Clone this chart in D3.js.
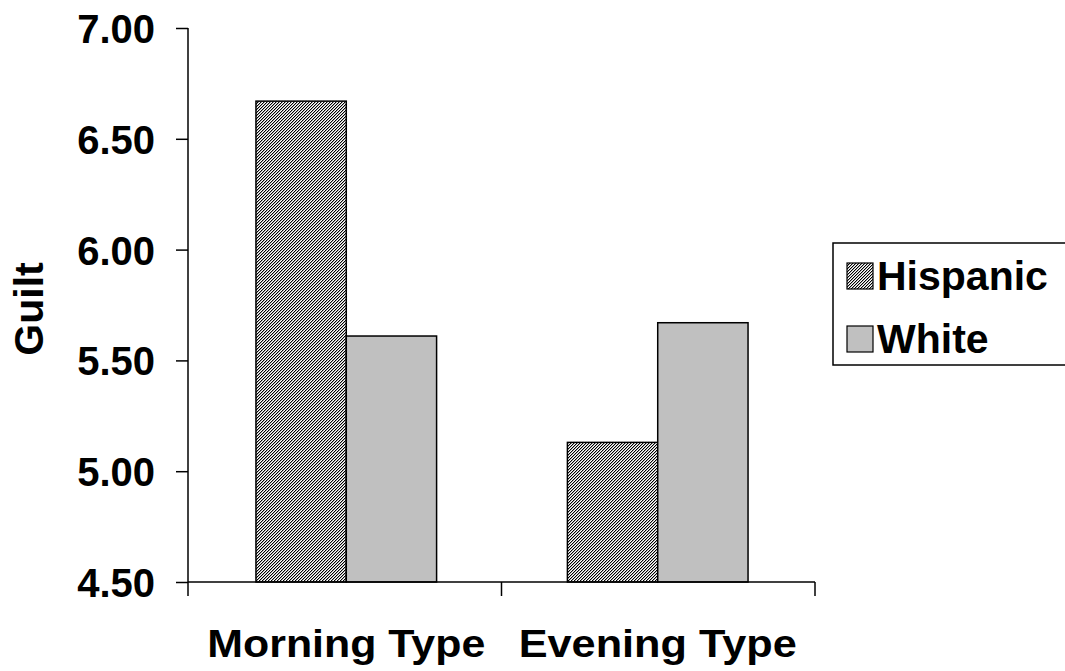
<!DOCTYPE html>
<html><head><meta charset="utf-8">
<script src="https://cdn.jsdelivr.net/npm/d3@7"></script>
<style>body{margin:0;background:#fff}svg{display:block}text{font-family:Arial,"Liberation Sans",sans-serif;font-weight:bold;fill:#000}</style>
</head><body>
<svg id="c" width="1065" height="671"></svg>
<script>
const categories = ["Morning Type", "Evening Type"];
const seriesNames = ["Hispanic", "White"];
const hispanic = [6.67, 5.13];
const white = [5.61, 5.67];
const yTicks = [4.5, 5.0, 5.5, 6.0, 6.5, 7.0];
const yLabel = "Guilt";

(function(){
const svg = d3.select("#c");
const defs = svg.append("defs");
const pat = defs.append("pattern").attr("id","hatch").attr("patternUnits","userSpaceOnUse")
  .attr("width",3).attr("height",3);
pat.append("rect").attr("width",3).attr("height",3).attr("fill","#fff");
for (let i=0;i<3;i++){
  pat.append("rect").attr("x",(2-i)).attr("y",i).attr("width",1).attr("height",1).attr("fill","#000");
  pat.append("rect").attr("x",(3-i)%3).attr("y",i).attr("width",1).attr("height",1).attr("fill","#aaa");
}
const fills = {Hispanic:"url(#hatch)", White:"#c0c0c0"};

const pL=188, pR=815, pT=28, pB=582;
const y = d3.scaleLinear().domain([4.5,7]).range([pB,pT]);
const x0 = d3.scaleBand().domain(categories).range([pL+1,pR]).paddingInner(0.42).paddingOuter(0.215);
const x1 = d3.scaleBand().domain(seriesNames).range([0,x0.bandwidth()]);

const data = categories.map((c,i)=>({cat:c, vals:[{s:"Hispanic",v:hispanic[i]},{s:"White",v:white[i]}]}));

const g = svg.append("g");
data.forEach(d=>{
  d.vals.forEach(b=>{
    g.append("rect").attr("x",x0(d.cat)+x1(b.s)).attr("y",y(b.v))
      .attr("width",x1.bandwidth()).attr("height",y(4.5)-y(b.v))
      .attr("fill",fills[b.s]).attr("stroke","#000").attr("stroke-width",1.5);
  });
});

const yAx = svg.append("g").attr("transform",`translate(${pL},0)`)
  .call(d3.axisLeft(y).tickValues(yTicks).tickFormat(d3.format(".2f")).tickSize(12).tickPadding(21));
yAx.select(".domain").attr("stroke","#000").attr("stroke-width",1.5).attr("d",`M0,${pT}V${pB}`);
yAx.selectAll(".tick line").attr("stroke","#000").attr("stroke-width",1.5);
yAx.selectAll(".tick text").style("font-size","40px").style("font-family","Arial, 'Liberation Sans', sans-serif").style("font-weight","bold").attr("dy","0.36em");

const xAx = svg.append("g").attr("transform",`translate(0,${pB})`);
xAx.append("line").attr("x1",pL).attr("x2",pR).attr("stroke","#000").attr("stroke-width",1.5);
const bounds = [pL, (pL+pR)/2, pR];
bounds.forEach(b=>xAx.append("line").attr("x1",b).attr("x2",b).attr("y1",0).attr("y2",14).attr("stroke","#000").attr("stroke-width",1.5));
categories.forEach(c=>{
  xAx.append("text").attr("x",x0(c)+x0.bandwidth()/2).attr("y",75).attr("text-anchor","middle")
    .attr("textLength",278).attr("lengthAdjust","spacingAndGlyphs")
    .style("font-size","39px").text(c);
});

svg.append("text").attr("transform","translate(43,309) rotate(-90)").attr("text-anchor","middle")
  .style("font-size","41px").text(yLabel);

const lg = svg.append("g");
lg.append("rect").attr("x",833).attr("y",243).attr("width",260).attr("height",122)
  .attr("fill","#fff").attr("stroke","#000").attr("stroke-width",1.5);
seriesNames.forEach((s,i)=>{
  const yy = 263 + i*63;
  lg.append("rect").attr("x",847).attr("y",yy).attr("width",26).attr("height",26)
    .attr("fill",fills[s]).attr("stroke","#000").attr("stroke-width",1.2);
  lg.append("text").attr("x",877).attr("y",yy+27).style("font-size","41px").text(s);
});
})();
</script>
</body></html>
